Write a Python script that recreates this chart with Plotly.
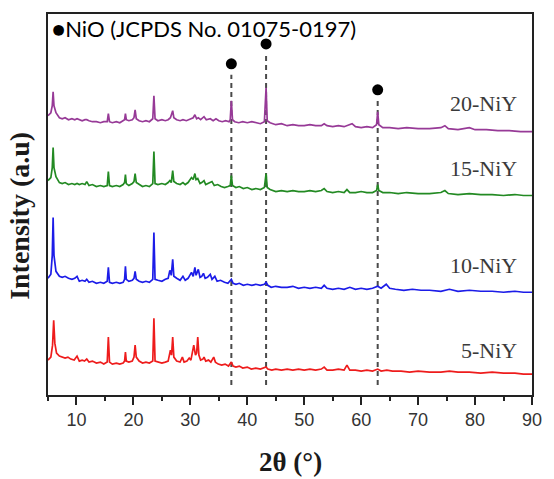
import plotly.graph_objects as go

# ---- data: (2θ in degrees, intensity in a.u. incl. vertical offset) ----
pattern_5 = [(5.0, 35), (5.5, 38), (5.8, 50), (6.0, 75), (6.2, 52), (6.5, 42), (7.0, 39), (7.5, 38), (8.0, 37),
             (8.5, 38), (9.0, 36), (9.6, 35), (10.1, 39), (10.5, 34), (11.0, 35), (11.4, 34), (11.8, 36), (12.2, 33),
             (12.8, 34), (13.5, 32), (14.2, 33), (14.8, 31), (15.4, 33), (15.6, 58), (15.8, 33), (16.3, 31), (17.0, 32),
             (17.6, 31), (18.2, 32), (18.45, 34), (18.6, 43), (18.75, 34), (19.2, 33), (19.8, 34), (20.1, 38), (20.3, 50),
             (20.5, 38), (21.0, 34), (21.6, 32), (22.2, 33), (22.8, 32), (23.4, 34), (23.6, 77), (23.8, 34), (24.3, 33),
             (25.0, 32), (25.6, 33), (26.1, 34), (26.5, 45), (26.7, 40), (26.9, 58), (27.1, 38), (27.6, 34), (28.2, 33),
             (28.6, 38), (28.9, 33), (29.4, 34), (29.8, 37), (30.1, 35), (30.4, 45), (30.6, 50), (30.9, 40), (31.1, 42),
             (31.3, 58), (31.5, 40), (31.8, 35), (32.2, 36), (32.4, 38), (32.7, 34), (33.2, 35), (33.6, 33), (34.1, 38),
             (34.4, 33), (34.9, 31), (35.5, 30), (36.1, 31), (36.7, 29), (37.2, 33), (37.5, 29), (38.0, 28), (38.6, 29),
             (39.2, 27), (40.0, 28), (40.7, 26), (41.5, 27), (42.3, 26), (43.0, 27), (43.3, 28), (43.6, 26), (44.3, 25),
             (45.0, 26), (46.0, 25), (47.0, 26), (48.0, 25), (49.0, 26), (50.0, 25), (51.0, 26), (52.0, 25), (53.0, 26),
             (53.5, 28), (54.0, 25), (55.0, 25), (56.0, 26), (57.0, 25), (57.5, 30), (58.0, 25), (59.0, 25), (60.0, 24),
             (61.0, 25), (62.0, 24), (62.9, 26), (63.5, 24), (64.5, 25), (65.5, 24), (67.0, 24), (68.5, 23), (70.0, 24),
             (72.0, 23), (74.0, 23), (75.5, 24), (77.0, 23), (79.0, 23), (81.0, 22), (83.0, 23), (85.0, 22), (87.0, 22),
             (88.5, 21), (90.0, 21)]

pattern_10 = [(5.0, 117), (5.5, 121), (5.75, 140), (5.9, 178), (6.05, 140), (6.4, 124), (7.0, 119), (7.5, 118),
              (8.0, 119), (8.6, 117), (9.2, 116), (9.7, 117), (10.1, 119), (10.5, 114), (11.0, 115), (11.5, 114),
              (11.8, 116), (12.2, 113), (12.8, 114), (13.5, 112), (14.2, 113), (14.8, 112), (15.4, 114), (15.6, 128),
              (15.8, 113), (16.3, 112), (17.0, 113), (17.6, 112), (18.2, 113), (18.45, 116), (18.6, 129), (18.75, 116),
              (19.2, 114), (19.8, 115), (20.1, 117), (20.3, 124), (20.5, 116), (21.0, 114), (21.6, 113), (22.2, 114),
              (22.8, 113), (23.4, 116), (23.6, 163), (23.8, 116), (24.3, 115), (25.0, 114), (25.6, 116), (26.1, 117),
              (26.4, 125), (26.65, 120), (26.9, 136), (27.1, 119), (27.6, 117), (28.2, 115), (28.7, 119), (29.1, 115),
              (29.6, 117), (30.2, 123), (30.5, 119), (30.8, 128), (31.0, 120), (31.2, 124), (31.4, 126), (31.7, 118),
              (32.0, 119), (32.3, 122), (32.6, 117), (33.0, 118), (33.5, 121), (33.8, 116), (34.3, 119), (34.7, 114),
              (35.3, 115), (36.0, 113), (36.6, 112), (37.2, 116), (37.5, 112), (38.0, 111), (38.6, 112), (39.3, 110),
              (40.0, 111), (40.8, 110), (41.5, 111), (42.3, 110), (43.0, 111), (43.3, 113), (43.6, 110), (44.2, 108),
              (45.0, 109), (46.0, 108), (47.0, 108), (48.0, 109), (49.0, 107), (50.0, 108), (51.0, 107), (52.0, 108),
              (53.0, 107), (53.5, 110), (54.0, 107), (55.0, 106), (56.0, 107), (57.0, 106), (58.0, 108), (59.0, 106),
              (60.0, 107), (61.0, 106), (62.0, 107), (62.9, 109), (63.5, 107), (64.4, 111), (65.0, 107), (66.0, 106),
              (67.5, 105), (69.0, 106), (70.5, 105), (72.0, 105), (74.0, 104), (75.5, 106), (77.0, 104), (79.0, 105),
              (81.0, 104), (83.0, 104), (85.0, 103), (87.0, 104), (88.5, 103), (90.0, 103)]

pattern_15 = [(5.0, 215), (5.5, 218), (5.75, 228), (5.9, 248), (6.05, 228), (6.4, 219), (7.0, 213), (7.5, 212),
              (8.0, 213), (8.6, 211), (9.2, 212), (9.7, 211), (10.1, 212), (10.5, 211), (11.0, 212), (11.5, 211),
              (11.8, 214), (12.2, 210), (12.8, 211), (13.5, 209), (14.2, 210), (14.8, 209), (15.4, 210), (15.6, 224),
              (15.8, 210), (16.3, 209), (17.0, 210), (17.6, 209), (18.2, 211), (18.45, 213), (18.6, 221), (18.75, 212),
              (19.2, 210), (19.8, 212), (20.1, 214), (20.3, 222), (20.5, 213), (21.0, 211), (21.6, 209), (22.2, 210),
              (22.8, 209), (23.4, 212), (23.6, 244), (23.8, 212), (24.3, 211), (25.0, 212), (25.6, 211), (26.1, 213),
              (26.4, 215), (26.65, 213), (26.9, 225), (27.1, 214), (27.6, 212), (28.2, 211), (28.7, 213), (29.1, 211),
              (29.6, 213), (30.2, 218), (30.5, 216), (30.8, 222), (31.0, 216), (31.3, 217), (31.7, 212), (32.0, 213),
              (32.4, 215), (32.7, 211), (33.2, 212), (33.8, 214), (34.2, 210), (34.8, 211), (35.4, 209), (36.0, 208),
              (36.6, 209), (37.0, 210), (37.2, 220), (37.4, 210), (38.0, 208), (38.6, 209), (39.3, 207), (40.0, 208),
              (40.8, 206), (41.5, 207), (42.3, 206), (43.0, 208), (43.3, 222), (43.5, 208), (44.0, 206), (45.0, 204),
              (46.0, 205), (47.0, 204), (48.0, 205), (49.0, 204), (50.0, 204), (51.0, 205), (52.0, 204), (53.0, 205),
              (53.5, 207), (54.0, 204), (55.0, 203), (56.0, 204), (57.0, 203), (57.5, 206), (58.0, 203), (59.0, 203),
              (60.0, 204), (61.0, 203), (62.0, 203), (62.7, 205), (62.9, 211), (63.1, 205), (63.8, 203), (65.0, 203),
              (66.5, 202), (68.0, 203), (70.0, 202), (72.0, 202), (74.0, 203), (74.7, 205), (75.3, 202), (77.0, 201),
              (79.0, 202), (81.0, 201), (83.0, 201), (85.0, 200), (87.0, 201), (88.5, 200), (90.0, 200)]

pattern_20 = [(5.0, 280), (5.5, 283), (5.75, 290), (5.9, 304), (6.05, 290), (6.4, 283), (7.0, 278), (7.5, 277),
              (8.0, 278), (8.6, 276), (9.2, 277), (9.7, 276), (10.1, 277), (10.5, 276), (11.0, 275), (11.5, 276),
              (11.8, 276), (12.2, 275), (12.8, 274), (13.5, 274), (14.2, 273), (14.8, 274), (15.4, 274), (15.6, 282),
              (15.8, 274), (16.3, 273), (17.0, 274), (17.6, 273), (18.2, 275), (18.45, 276), (18.6, 282), (18.75, 276),
              (19.2, 275), (19.8, 276), (20.1, 278), (20.3, 286), (20.5, 277), (21.0, 275), (21.6, 274), (22.2, 275),
              (22.8, 274), (23.4, 277), (23.6, 300), (23.8, 277), (24.3, 275), (25.0, 276), (25.6, 275), (26.1, 276),
              (26.5, 278), (26.9, 285), (27.1, 278), (27.6, 276), (28.2, 275), (28.7, 276), (29.3, 275), (29.8, 276),
              (30.2, 277), (30.5, 278), (30.8, 281), (31.1, 277), (31.4, 278), (31.8, 276), (32.4, 279), (32.8, 276),
              (33.5, 277), (34.0, 275), (34.5, 277), (35.0, 275), (35.6, 274), (36.2, 275), (36.8, 274), (37.0, 276),
              (37.2, 295), (37.4, 276), (37.8, 274), (38.5, 273), (39.2, 274), (40.0, 273), (40.8, 274), (41.5, 273),
              (42.3, 272), (43.0, 274), (43.3, 308), (43.5, 275), (44.0, 273), (45.0, 271), (46.0, 272), (47.0, 270),
              (48.0, 271), (49.0, 270), (50.0, 270), (51.0, 271), (52.0, 270), (53.0, 270), (53.5, 272), (54.0, 270),
              (55.0, 269), (56.0, 270), (57.0, 269), (58.4, 272), (59.0, 269), (60.0, 268), (61.0, 269), (62.0, 268),
              (62.7, 271), (62.9, 284), (63.1, 271), (63.8, 268), (65.0, 268), (66.5, 267), (68.0, 268), (70.0, 267),
              (72.0, 267), (74.0, 268), (74.7, 270), (75.3, 267), (77.0, 266), (79.0, 268), (80.0, 266), (82.0, 266),
              (84.0, 265), (86.0, 265), (88.0, 264), (90.0, 264)]

series_names = ["5-NiY", "10-NiY", "15-NiY", "20-NiY"]
series_colors = ["#ee1c1c", "#1c1ce8", "#238a23", "#973a97"]
label_y = [45, 130, 227, 292]

nio_peaks = [37.2, 43.3, 62.9]
nio_dot_y = [332, 352, 306]
nio_line_top = [321, 341, 295]
nio_line_bottom = 10

x_ticks = [10, 20, 30, 40, 50, 60, 70, 80, 90]

fig = go.Figure()

# dashed reference lines for NiO
for px, top in zip(nio_peaks, nio_line_top):
    fig.add_trace(go.Scatter(x=[px, px], y=[nio_line_bottom, top], mode="lines",
                             line=dict(color="#4a4a4a", width=2, dash="5px,4px"),
                             showlegend=False, hoverinfo="skip"))

patterns = [pattern_5, pattern_10, pattern_15, pattern_20]
for pat, name, col in zip(patterns, series_names, series_colors):
    xv = [p[0] for p in pat]
    yv = [p[1] for p in pat]
    fig.add_trace(go.Scatter(x=xv, y=yv, mode="lines", name=name,
                             line=dict(color=col, width=1.7), showlegend=False))

fig.add_trace(go.Scatter(x=nio_peaks, y=nio_dot_y, mode="markers",
                         marker=dict(color="black", size=11), showlegend=False))

for name, ly in zip(series_names, label_y):
    fig.add_annotation(x=87.8, y=ly, text=name, showarrow=False, xanchor="right",
                       font=dict(family="Liberation Serif", size=22, color="#3a3a3a"))

fig.add_annotation(xref="paper", yref="paper", x=0.004, y=0.963, text="●NiO (JCPDS No. 01075-0197)",
                   showarrow=False, xanchor="left", yanchor="middle",
                   font=dict(family="Lato", size=22, color="black"))

fig.add_annotation(xref="paper", yref="paper", x=-0.058, y=0.47, text="<b>Intensity (a.u)</b>",
                   showarrow=False, textangle=-90, xanchor="center", yanchor="middle",
                   font=dict(family="Liberation Serif", size=28, color="#1a1a1a"))
fig.add_annotation(xref="paper", yref="paper", x=0.5, y=-0.175, text="<b>2θ (°)</b>",
                   showarrow=False, xanchor="center", yanchor="middle",
                   font=dict(family="Liberation Serif", size=27, color="#1a1a1a"))

fig.update_xaxes(range=[5, 90], tickvals=x_ticks, ticks="outside", ticklen=8, tickwidth=1.5,
                 tickcolor="#222", showline=True, linecolor="#222", linewidth=1.6, mirror=True,
                 showgrid=False, zeroline=False,
                 tickfont=dict(family="Liberation Sans", size=18, color="#333"),
                 minor=dict(dtick=5, tick0=5, ticks="outside", ticklen=4, tickwidth=1.5, tickcolor="#222"))
fig.update_yaxes(range=[0, 382], showticklabels=False, ticks="", showline=True, linecolor="#222",
                 linewidth=1.6, mirror=True, showgrid=False, zeroline=False)

fig.update_layout(width=554, height=479, margin=dict(l=48, r=13, t=13, b=84),
                  plot_bgcolor="white", paper_bgcolor="white")

fig.write_html("out.html")
